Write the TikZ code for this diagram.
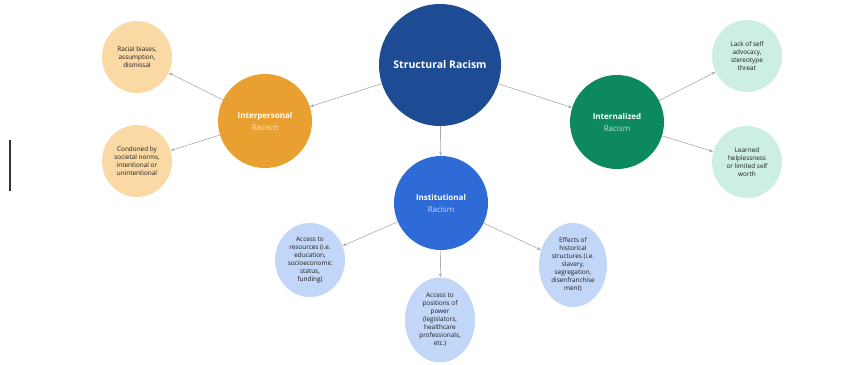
\documentclass[tikz,border=0pt]{standalone}
\usepackage{fontspec}
\setmainfont{Open Sans}
\usepackage{xcolor}
\usetikzlibrary{shapes.geometric,arrows.meta}

\definecolor{structblue}{HTML}{1D4B94}
\definecolor{interorange}{HTML}{E9A030}
\definecolor{interpeach}{HTML}{FBD9A5}
\definecolor{intgreen}{HTML}{0C8A5E}
\definecolor{intmint}{HTML}{CDEEE3}
\definecolor{instblue}{HTML}{2E6BD6}
\definecolor{instlight}{HTML}{C2D7F7}

\tikzset{
	hub/.style={circle, minimum size=94pt, inner sep=0pt, text=white, align=center,
		font=\fontsize{8}{12}\selectfont},
	leaf/.style={ellipse, minimum width=70pt, minimum height=72pt, inner sep=0pt,
		align=center, text=black!90, font=\fontsize{6.4}{8}\selectfont},
	link/.style={draw=gray!65, line width=0.6pt, -{Stealth[length=4pt,width=3pt]}},
}

\begin{document}
\begin{tikzpicture}[x=1pt,y=-1pt]
		\useasboundingbox (0,0) rectangle (850,364);
		% dotted canvas
		\foreach \x in {5,15,...,845} {
			\foreach \y in {5,15,...,360} {
				\fill[gray!22] (\x,\y) circle (0.5pt);
			}
		}
		\draw[line width=1.2pt, black!80] (10,140) -- (10,191);
		
		% main hub
		\node[hub, fill=structblue, minimum size=122pt,
			font=\bfseries\fontsize{10.5}{12}\selectfont] (struct) at (440,65) {Structural Racism};
		
		% interpersonal
		\node[hub, fill=interorange] (inter) at (265,121)
			{\textbf{Interpersonal}\\{\color{white!75!interorange}Racism}};
		\node[leaf, fill=interpeach] (biases) at (137,57)
			{Racial biases,\\assumption,\\dismissal};
		\node[leaf, fill=interpeach] (norms) at (137,161)
			{Condoned by\\societal norms,\\intentional or\\unintentional};
		
		% internalized
		\node[hub, fill=intgreen] (intern) at (617,122)
			{\textbf{Internalized}\\{\color{white!75!intgreen}Racism}};
		\node[leaf, fill=intmint] (advocacy) at (747,56)
			{Lack of self\\advocacy,\\stereotype\\threat};
		\node[leaf, fill=intmint] (worth) at (747,162)
			{Learned\\helplessness\\or limited self\\worth};
		
		% institutional
		\node[hub, fill=instblue] (inst) at (441,203)
			{\textbf{Institutional}\\{\color{white!75!instblue}Racism}};
		\node[leaf, fill=instlight, minimum height=74pt] (resources) at (310,260)
			{Access to\\resources (i.e.\\education,\\socioeconomic\\status,\\funding)};
		\node[leaf, fill=instlight, minimum height=85pt] (power) at (440,320)
			{Access to\\positions of\\power\\(legislators,\\healthcare\\professionals,\\etc.)};
		\node[leaf, fill=instlight, minimum width=68pt, minimum height=84pt] (history) at (573,265)
			{Effects of\\historical\\structures (i.e.\\slavery,\\segregation,\\disenfranchise\\ment)};
		
		% connectors
		\draw[link] (struct) -- (inter);
		\draw[link] (struct) -- (intern);
		\draw[link] (struct) -- (inst);
		\draw[link] (inter) -- (biases);
		\draw[link] (inter) -- (norms);
		\draw[link] (intern) -- (advocacy);
		\draw[link] (intern) -- (worth);
		\draw[link] (inst) -- (resources);
		\draw[link] (inst) -- (power);
		\draw[link] (inst) -- (history);
	\end{tikzpicture}
\end{document}
